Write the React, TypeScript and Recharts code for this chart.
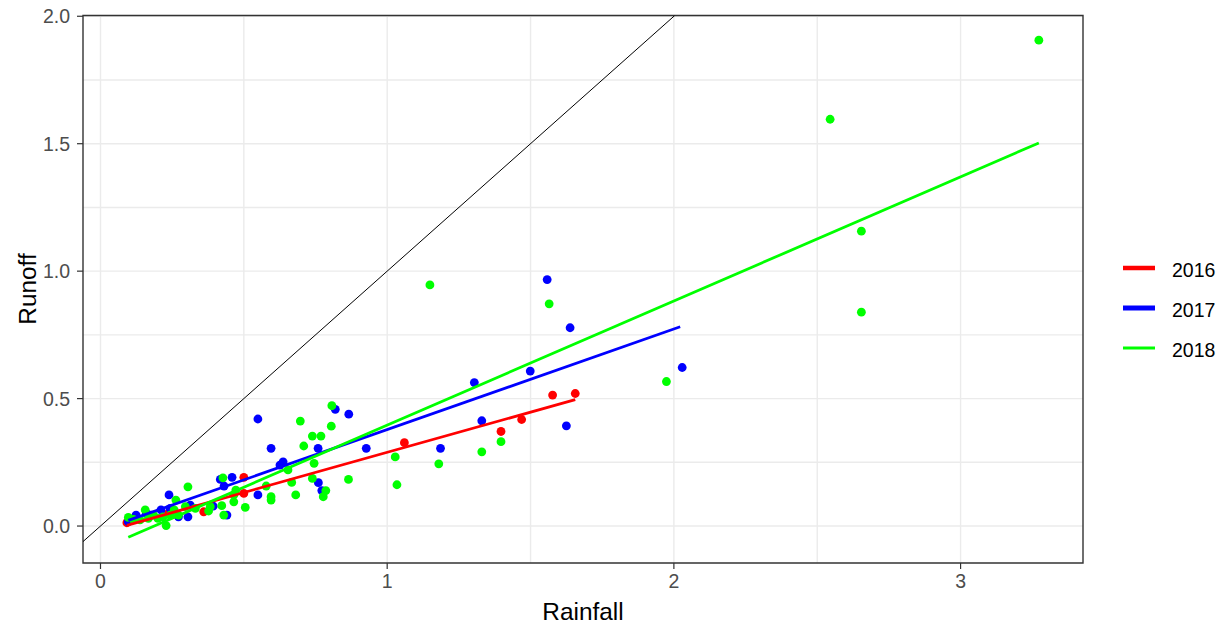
import React from 'react';
import { ScatterChart, Scatter, XAxis, YAxis, CartesianGrid, ReferenceArea } from 'recharts';

const FONT = '"Liberation Sans", Arial, Helvetica, sans-serif';

// Axis ticks and grid values
const xTicks = [0, 1, 2, 3];
const yTicks = [0, 0.5, 1, 1.5, 2];
const xGrid = [0, 0.5, 1, 1.5, 2, 2.5, 3];
const yGrid = [0, 0.25, 0.5, 0.75, 1, 1.25, 1.5, 1.75, 2];
const X_DOMAIN: [number, number] = [-0.061, 3.427];
const Y_DOMAIN: [number, number] = [-0.145, 2.003];

// Series names & colours
const years = ['2016', '2017', '2018'];
const colors = ['#FF0000', '#0000FF', '#00FF00'];

// 2016 observations
const rain2016 = [0.092, 0.237, 0.360, 0.500, 0.500, 1.060, 1.397, 1.469, 1.577, 1.656];
const runoff2016 = [0.013, 0.050, 0.056, 0.191, 0.128, 0.327, 0.371, 0.418, 0.514, 0.520];

// 2017 observations
const rain2017 = [2.029, 1.558, 1.638, 1.499, 1.304, 1.330, 1.625, 1.186, 0.819, 0.866, 0.549, 0.759, 0.595, 0.927,
  0.637, 0.626, 0.459, 0.760, 0.772, 0.549, 0.239, 0.418, 0.431, 0.441, 0.393, 0.313, 0.272, 0.305, 0.211, 0.243,
  0.177, 0.124, 0.097, 0.160];
const runoff2017 = [0.622, 0.967, 0.778, 0.608, 0.563, 0.413, 0.393, 0.305, 0.458, 0.439, 0.420, 0.305, 0.305, 0.305,
  0.252, 0.239, 0.191, 0.170, 0.139, 0.122, 0.122, 0.183, 0.157, 0.043, 0.078, 0.082, 0.036, 0.036, 0.063, 0.069,
  0.043, 0.043, 0.017, 0.050];

// 2018 observations
const rain2018 = [3.273, 2.545, 2.654, 2.654, 1.974, 1.149, 1.565, 1.397, 1.330, 1.028, 1.180, 1.034, 0.807, 0.697,
  0.805, 0.739, 0.769, 0.709, 0.745, 0.654, 0.739, 0.865, 0.667, 0.578, 0.786, 0.465, 0.681, 0.595, 0.777, 0.595,
  0.465, 0.505, 0.305, 0.427, 0.472, 0.423, 0.430, 0.377, 0.331, 0.296, 0.263, 0.257, 0.229, 0.218, 0.156, 0.185,
  0.097, 0.115, 0.138, 0.167, 0.200, 0.272, 0.243, 0.383];
const runoff2018 = [1.906, 1.596, 1.157, 0.839, 0.567, 0.946, 0.872, 0.331, 0.291, 0.271, 0.244, 0.162, 0.472, 0.412,
  0.392, 0.353, 0.353, 0.314, 0.246, 0.220, 0.187, 0.183, 0.171, 0.157, 0.139, 0.122, 0.122, 0.115, 0.115, 0.102,
  0.095, 0.073, 0.154, 0.189, 0.141, 0.080, 0.043, 0.059, 0.069, 0.076, 0.102, 0.063, 0.002, 0.036, 0.063, 0.043,
  0.034, 0.026, 0.024, 0.030, 0.030, 0.043, 0.043, 0.076];

// Fitted lines
const fit2016X = [0.092, 1.656];
const fit2016Y = [0.003, 0.496];
const fit2017X = [0.097, 2.022];
const fit2017Y = [0.022, 0.782];
const fit2018X = [0.097, 3.273];
const fit2018Y = [-0.044, 1.503];

// 1:1 line
const identity = [X_DOMAIN[0], 2.003];

const zip = (xs: number[], ys: number[]) => xs.map((x, i) => ({ x, y: ys[i] }));

const points = [zip(rain2016, runoff2016), zip(rain2017, runoff2017), zip(rain2018, runoff2018)];
const fits = [zip(fit2016X, fit2016Y), zip(fit2017X, fit2017Y), zip(fit2018X, fit2018Y)];
const identityData = identity.map((v) => ({ x: v, y: v }));

const dot = (color: string) => (props: any) => (
  <circle cx={props.cx} cy={props.cy} r={4.4} fill={color} />
);
const noDot = () => <g />;

const legendKeyWidths = [4.5, 5, 3];

export default function App() {
  return (
    <div style={{ position: 'absolute', left: 0, top: 0, width: 1227, height: 628, background: '#fff' }}>
      <ScatterChart width={1227} height={628} margin={{ top: 15.5, right: 144, bottom: 0, left: 0 }}>
        <CartesianGrid verticalValues={xGrid} horizontalValues={yGrid} stroke="#EBEBEB" strokeWidth={1.4} />
        <XAxis
          type="number"
          dataKey="x"
          domain={X_DOMAIN}
          ticks={xTicks}
          allowDataOverflow
          interval={0}
          height={65}
          axisLine={false}
          tickSize={6}
          tickMargin={5}
          tickLine={{ stroke: '#333333', strokeWidth: 1.2 }}
          tick={{ fill: '#4D4D4D', fontSize: 19.5, fontFamily: FONT }}
          tickFormatter={(v: number) => String(v)}
        />
        <YAxis
          type="number"
          dataKey="y"
          domain={Y_DOMAIN}
          ticks={yTicks}
          allowDataOverflow
          interval={0}
          width={83}
          axisLine={false}
          tickSize={6}
          tickMargin={7}
          tickLine={{ stroke: '#333333', strokeWidth: 1.2 }}
          tick={{ fill: '#4D4D4D', fontSize: 19.5, fontFamily: FONT }}
          tickFormatter={(v: number) => v.toFixed(1)}
        />
        {points.map((d, i) => (
          <Scatter key={'p' + i} data={d} fill={colors[i]} shape={dot(colors[i])} isAnimationActive={false} />
        ))}
        {fits.map((d, i) => (
          <Scatter
            key={'f' + i}
            data={d}
            line={{ stroke: colors[i], strokeWidth: 2.8 }}
            shape={noDot}
            isAnimationActive={false}
          />
        ))}
        <Scatter data={identityData} line={{ stroke: '#000000', strokeWidth: 1 }} shape={noDot} isAnimationActive={false} />
        <ReferenceArea
          x1={X_DOMAIN[0]}
          x2={X_DOMAIN[1]}
          y1={Y_DOMAIN[0]}
          y2={Y_DOMAIN[1]}
          fill="none"
          fillOpacity={0}
          stroke="#333333"
          strokeWidth={1.4}
          ifOverflow="visible"
        />
      </ScatterChart>
      <svg
        width={1227}
        height={628}
        style={{ position: 'absolute', left: 0, top: 0, pointerEvents: 'none' }}
      >
        <text x={583} y={611} textAnchor="middle" dominantBaseline="central" fontFamily={FONT} fontSize={24.4} fill="#000">
          Rainfall
        </text>
        <text
          x={27}
          y={289}
          textAnchor="middle"
          dominantBaseline="central"
          fontFamily={FONT}
          fontSize={24.4}
          fill="#000"
          transform="rotate(-90 27 289)"
        >
          Runoff
        </text>
        {years.map((yr, i) => (
          <g key={yr}>
            <line x1={1123} x2={1155} y1={268 + i * 40} y2={268 + i * 40} stroke={colors[i]} strokeWidth={legendKeyWidths[i]} />
            <text x={1172} y={270 + i * 40} dominantBaseline="central" fontFamily={FONT} fontSize={19.5} fill="#000">
              {yr}
            </text>
          </g>
        ))}
      </svg>
    </div>
  );
}
